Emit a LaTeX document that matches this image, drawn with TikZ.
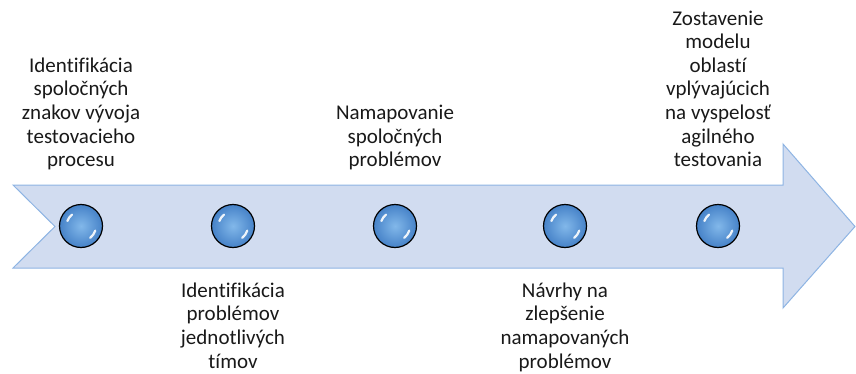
\documentclass[tikz,border=0pt]{standalone}
\usepackage{fontspec}
\setmainfont{Carlito}[Ligatures=NoCommon]
\usepackage{tikz}
\usetikzlibrary{positioning}
\usepackage{xcolor}

\definecolor{arrowfill}{RGB}{209,220,240}
\definecolor{arrowline}{RGB}{142,180,227}
\definecolor{ballin}{RGB}{130,184,234}
\definecolor{ballout}{RGB}{70,130,200}
\definecolor{labeltext}{RGB}{25,25,25}

\begin{document}
\begin{tikzpicture}[x=1pt,y=1pt]
    \tikzstyle{ball} = [circle, draw=black, line width=1.2pt, minimum size=43pt,
               inner sep=0pt, inner color=ballin, outer color=ballout]
    \tikzstyle{lbl} = [align=center, text=labeltext,
               font=\fontsize{21}{23.6}\selectfont]
    \tikzstyle{hl} = [draw=white, line width=2.2pt, line cap=round, opacity=0.9]

    \useasboundingbox (0,0) rectangle (856,373);

    % Arrow
    \draw[fill=arrowfill, draw=arrowline, line width=1pt]
      (13,188) -- (783,188) -- (783,229) -- (855,146.5) -- (783,65)
      -- (783,105) -- (13,105) -- (55,146.5) -- cycle;

    % Milestones
    \node[ball] (b1) at (81,147) {};
    \node[ball] (b2) at (233,147) {};
    \node[ball] (b3) at (395,147) {};
    \node[ball] (b4) at (565,147) {};
    \node[ball] (b5) at (718,147) {};

    \foreach \i in {1,...,5} {
      \draw[hl] (b\i.center) ++(160:14.5) arc (160:128:14.5);
      \draw[hl] (b\i.center) ++(-18:15) arc (-18:-52:15);
    }

    % Labels above
    \node[lbl, text depth=5pt, above=28.7pt of b1] (t1)
      {Identifikácia\\spoločných\\znakov vývoja\\testovacieho\\procesu};
    \node[lbl, text depth=5pt, above=28.7pt of b3] (t3)
      {Namapovanie\\spoločných\\problémov};
    \node[lbl, text depth=5pt, above=28.7pt of b5] (t5)
      {Zostavenie\\modelu\\oblastí\\vplývajúcich\\na vyspelosť\\agilného\\testovania};

    % Labels below
    \node[lbl, below=31pt of b2] (t2)
      {Identifikácia\\problémov\\jednotlivých\\tímov};
    \node[lbl, below=31pt of b4] (t4)
      {Návrhy na\\zlepšenie\\namapovaných\\problémov};
\end{tikzpicture}
\end{document}
